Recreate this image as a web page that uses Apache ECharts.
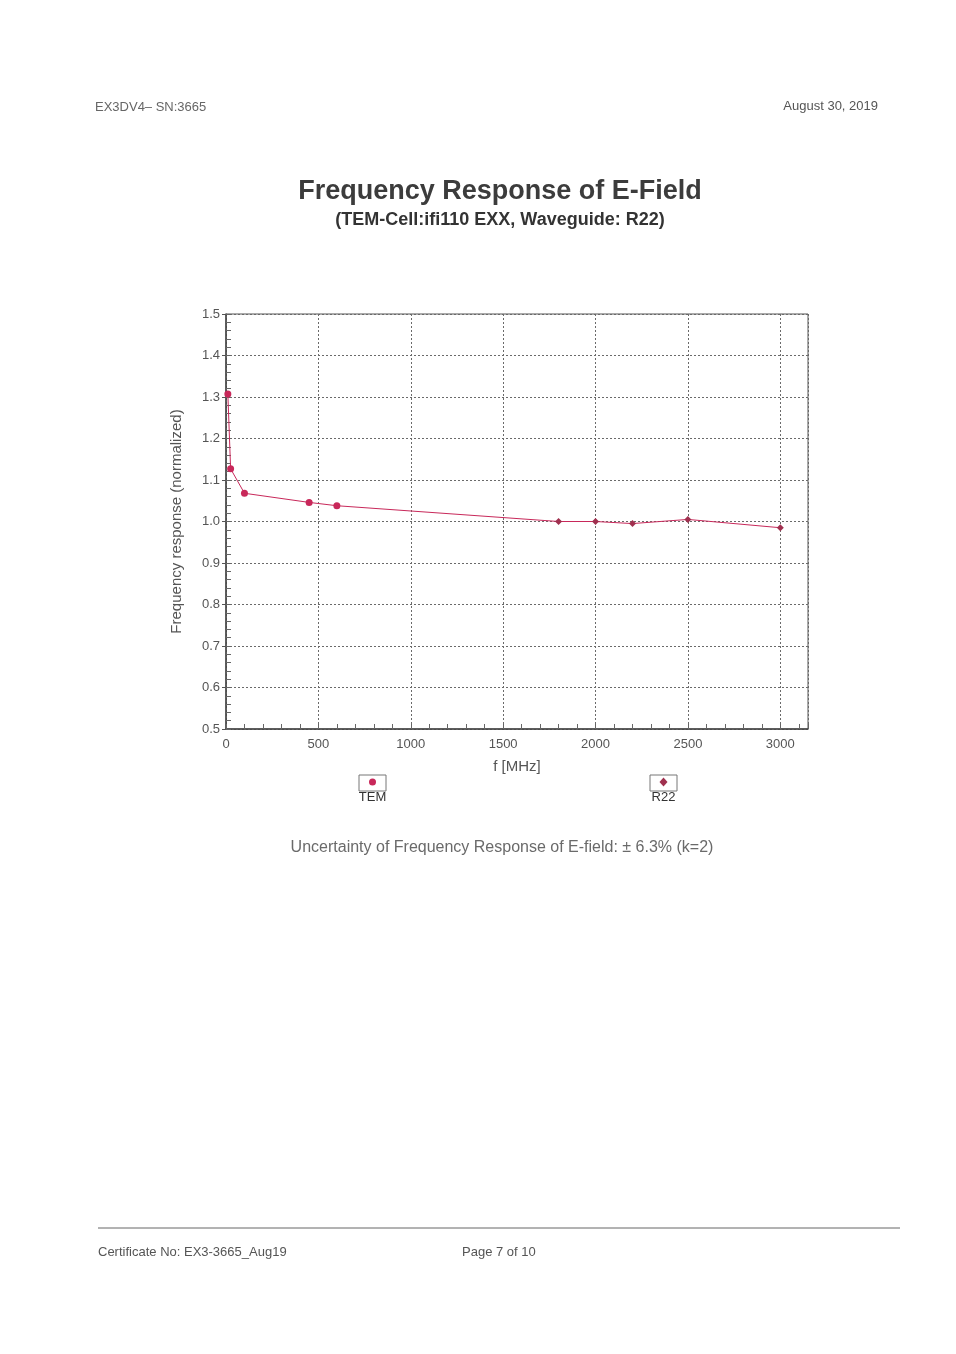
<!DOCTYPE html>
<html>
<head>
<meta charset="utf-8">
<title>Frequency Response of E-Field</title>
<script src="https://cdn.jsdelivr.net/npm/echarts@6/dist/echarts.min.js"></script>
<style>
  html, body { margin: 0; padding: 0; background: #ffffff; }
  #chart { width: 956px; height: 1354px; }
</style>
</head>
<body>
<div id="chart"></div>
<script>
// Frequencies in MHz and normalized response, TEM cell series
const temFreq = [10, 25, 100, 450, 600, 1800];
const temResp = [1.307, 1.127, 1.068, 1.046, 1.038, 1.000];
// Waveguide R22 series
const r22Freq = [1800, 2000, 2200, 2500, 3000];
const r22Resp = [1.000, 1.000, 0.995, 1.005, 0.985];

const xTicks = [0, 500, 1000, 1500, 2000, 2500, 3000];
const yTicks = [0.5, 0.6, 0.7, 0.8, 0.9, 1.0, 1.1, 1.2, 1.3, 1.4, 1.5];

const temColor = '#c8285a';
const r22Color = '#a0304f';
const textGray = '#555555';
const font = '"Liberation Sans", Arial, sans-serif';

const temData = temFreq.map((f, i) => {
  const p = { value: [f, temResp[i]] };
  // the last TEM point sits under the first R22 marker
  if (i === temFreq.length - 1) p.symbol = 'none';
  return p;
});
const r22Data = r22Freq.map((f, i) => [f, r22Resp[i]]);

const chart = echarts.init(document.getElementById('chart'), null, { renderer: 'canvas' });

const gridLine = { show: true, lineStyle: { color: '#6a6a6a', type: [2, 2], width: 1 } };

chart.setOption({
  backgroundColor: '#ffffff',
  animation: false,
  textStyle: { fontFamily: font },
  title: [
    { text: 'Frequency Response of E-Field', left: 495, top: 173, textAlign: 'center',
      textStyle: { fontSize: 27, fontWeight: 'bold', color: '#3c3c3c', fontFamily: font } },
    { text: '(TEM-Cell:ifi110 EXX, Waveguide: R22)', left: 495, top: 206, textAlign: 'center',
      textStyle: { fontSize: 18, fontWeight: 'bold', color: '#333', fontFamily: font } },
    { text: 'EX3DV4– SN:3665', left: 90, top: 96,
      textStyle: { fontSize: 13, fontWeight: 'normal', color: '#666', fontFamily: font } },
    { text: 'August 30, 2019', right: 73, top: 95,
      textStyle: { fontSize: 13, fontWeight: 'normal', color: '#555', fontFamily: font } },
    { text: 'Uncertainty of Frequency Response of E-field: ± 6.3% (k=2)', left: 497, top: 835, textAlign: 'center',
      textStyle: { fontSize: 16, fontWeight: 'normal', color: '#6a6a6a', fontFamily: font } },
    { text: 'Certificate No: EX3-3665_Aug19', left: 93, top: 1241,
      textStyle: { fontSize: 13, fontWeight: 'normal', color: '#555', fontFamily: font } },
    { text: 'Page 7 of 10', left: 457, top: 1241,
      textStyle: { fontSize: 13, fontWeight: 'normal', color: '#555', fontFamily: font } }
  ],
  grid: {
    left: 226, top: 314, width: 582, height: 415,
    show: true, borderColor: '#555', borderWidth: 1, backgroundColor: 'transparent'
  },
  xAxis: [
    {
      type: 'value', min: 0, max: 3150, interval: 500,
      name: 'f [MHz]', nameLocation: 'middle', nameGap: 30,
      nameTextStyle: { fontSize: 15, color: textGray, fontFamily: font },
      axisLine: { show: true, lineStyle: { color: '#444', width: 1.5 } },
      axisTick: { show: false },
      axisLabel: { color: textGray, fontSize: 13, margin: 9, showMaxLabel: false,
        formatter: v => (xTicks.indexOf(v) >= 0 ? String(v) : '') },
      splitLine: gridLine
    },
    {
      // fine 100 MHz ticks along the bottom edge
      type: 'value', min: 0, max: 3150, interval: 100, position: 'bottom',
      axisLine: { show: false },
      axisTick: { show: true, inside: true, length: 5, lineStyle: { color: '#666' } },
      axisLabel: { show: false },
      splitLine: { show: false }
    }
  ],
  yAxis: [
    {
      type: 'value', min: 0.5, max: 1.5, interval: 0.1,
      name: 'Frequency response (normalized)', nameLocation: 'middle', nameGap: 42,
      nameTextStyle: { fontSize: 15, color: textGray, fontFamily: font },
      axisLine: { show: true, lineStyle: { color: '#444', width: 1.5 } },
      axisTick: { show: true, inside: false, length: 4, lineStyle: { color: '#555' } },
      axisLabel: { color: textGray, fontSize: 13, margin: 6,
        formatter: v => { const t = yTicks.find(k => Math.abs(k - v) < 1e-6); return t === undefined ? '' : t.toFixed(1); } },
      splitLine: gridLine
    },
    {
      // fine 0.02 ticks along the left edge
      type: 'value', min: 0.5, max: 1.5, interval: 0.02, position: 'left',
      axisLine: { show: false },
      axisTick: { show: true, inside: true, length: 5, lineStyle: { color: '#666' } },
      axisLabel: { show: false },
      splitLine: { show: false }
    }
  ],
  series: [
    {
      name: 'TEM', type: 'line', data: temData,
      symbol: 'circle', symbolSize: 7,
      lineStyle: { color: temColor, width: 1 },
      itemStyle: { color: temColor }
    },
    {
      name: 'R22', type: 'line', data: r22Data,
      symbol: 'diamond', symbolSize: 7,
      lineStyle: { color: temColor, width: 1 },
      itemStyle: { color: r22Color }
    }
  ],
  graphic: [
    // legend keys with captions underneath
    { type: 'rect', shape: { x: 359, y: 775, width: 27, height: 16 },
      style: { fill: '#fff', stroke: '#777', lineWidth: 1 } },
    { type: 'circle', shape: { cx: 372.5, cy: 782, r: 3.5 }, style: { fill: temColor } },
    { type: 'text', style: { text: 'TEM', x: 372.5, y: 791, align: 'center', fill: '#333', fontSize: 13, fontFamily: font } },
    { type: 'rect', shape: { x: 650, y: 775, width: 27, height: 16 },
      style: { fill: '#fff', stroke: '#777', lineWidth: 1 } },
    { type: 'polygon', shape: { points: [[663.5, 777.5], [667.5, 782], [663.5, 786.5], [659.5, 782]] }, style: { fill: r22Color } },
    { type: 'text', style: { text: 'R22', x: 663.5, y: 791, align: 'center', fill: '#333', fontSize: 13, fontFamily: font } },
    // footer rule
    { type: 'line', shape: { x1: 98, y1: 1228, x2: 900, y2: 1228 }, style: { stroke: '#666', lineWidth: 1 } }
  ]
});
</script>
</body>
</html>
